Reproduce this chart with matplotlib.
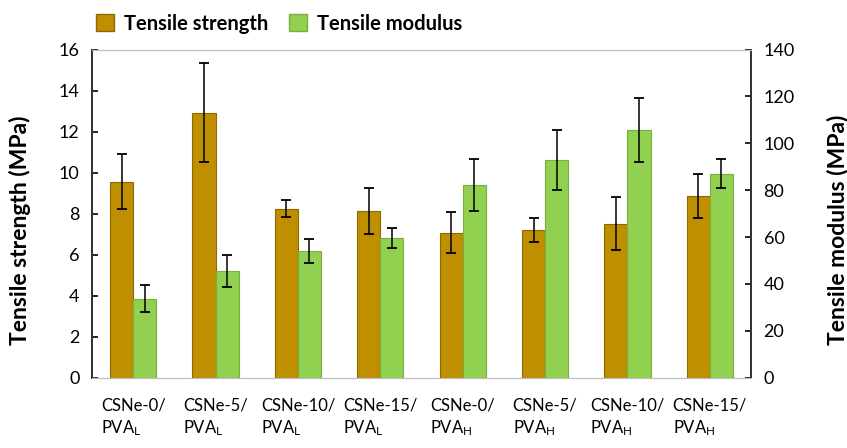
import matplotlib
matplotlib.use("Agg")
import matplotlib.pyplot as plt
from matplotlib.patches import Patch
import numpy as np

plt.rcParams['font.family'] = ['Lato', 'DejaVu Sans']
plt.rcParams['mathtext.default'] = 'regular'

samples = ["CSNe-0/\n$PVA_L$", "CSNe-5/\n$PVA_L$", "CSNe-10/\n$PVA_L$", "CSNe-15/\n$PVA_L$",
           "CSNe-0/\n$PVA_H$", "CSNe-5/\n$PVA_H$", "CSNe-10/\n$PVA_H$", "CSNe-15/\n$PVA_H$"]
strength = [9.56, 12.92, 8.24, 8.14, 7.07, 7.19, 7.51, 8.87]
strength_err = [1.33, 2.40, 0.41, 1.13, 1.00, 0.59, 1.30, 1.07]
modulus = [33.7, 45.5, 54.2, 59.5, 82.2, 92.9, 105.8, 87.0]
modulus_err = [5.7, 6.9, 5.1, 4.3, 11.2, 12.7, 13.6, 6.2]

c_str = "#BF8F00"
c_mod = "#92D050"

fig = plt.figure(figsize=(8.47, 4.48), dpi=100)
ax = fig.add_axes([0.1086, 0.1569, 0.7781, 0.7326])
ax2 = ax.twinx()

x = np.arange(len(samples))
w = 0.28
ax.bar(x - w / 2, strength, w, color=c_str, edgecolor="#8C6A00", linewidth=0.8, zorder=2)
ax.errorbar(x - w / 2, strength, yerr=strength_err, fmt='none', ecolor='black',
            elinewidth=1.1, capsize=3.5, capthick=1.3, zorder=3)
ax2.bar(x + w / 2, modulus, w, color=c_mod, edgecolor="#78B040", linewidth=0.8, zorder=2)
ax2.errorbar(x + w / 2, modulus, yerr=modulus_err, fmt='none', ecolor='black',
             elinewidth=1.1, capsize=3.5, capthick=1.3, zorder=3)

ax.set_xlim(-0.5, 7.5)
ax.set_ylim(0, 16)
ax2.set_ylim(0, 140)
ax.set_yticks(np.arange(0, 17, 2))
ax2.set_yticks(np.arange(0, 141, 20))
ax.set_xticks(x)
ax.set_xticklabels(samples, fontsize=12, multialignment='left', linespacing=1.35)
ax.tick_params(axis='x', length=0, pad=14)
ax.tick_params(axis='y', direction='in', length=4, width=1.2, labelsize=13, pad=9)
ax2.tick_params(axis='y', direction='in', length=4, width=1.2, labelsize=13, pad=9)

for a in (ax, ax2):
    a.spines['top'].set_color('#BFBFBF')
    a.spines['bottom'].set_color('#BFBFBF')
    a.spines['left'].set_color('#333333')
    a.spines['right'].set_color('#333333')
    a.spines['left'].set_linewidth(1.3)
    a.spines['right'].set_linewidth(1.3)

ax.set_ylabel("Tensile strength (MPa)", fontsize=16.5, fontweight='bold')
ax.yaxis.set_label_coords(-0.093, 0.45)
ax2.set_ylabel("Tensile modulus (MPa)", fontsize=16.5, fontweight='bold', rotation=90)
ax2.yaxis.set_label_coords(1.115, 0.45)

handles = [Patch(facecolor=c_str, edgecolor="#8C6A00", label="Tensile strength"),
           Patch(facecolor=c_mod, edgecolor="#78B040", label="Tensile modulus")]
fig.legend(handles=handles, loc='upper left', bbox_to_anchor=(0.092, 1.01), ncol=2,
           frameon=False, prop={'size': 14.5, 'weight': 'bold'}, handlelength=0.9,
           handleheight=0.9, handletextpad=0.5, columnspacing=1.0)

fig.savefig("out.png", dpi=100)
